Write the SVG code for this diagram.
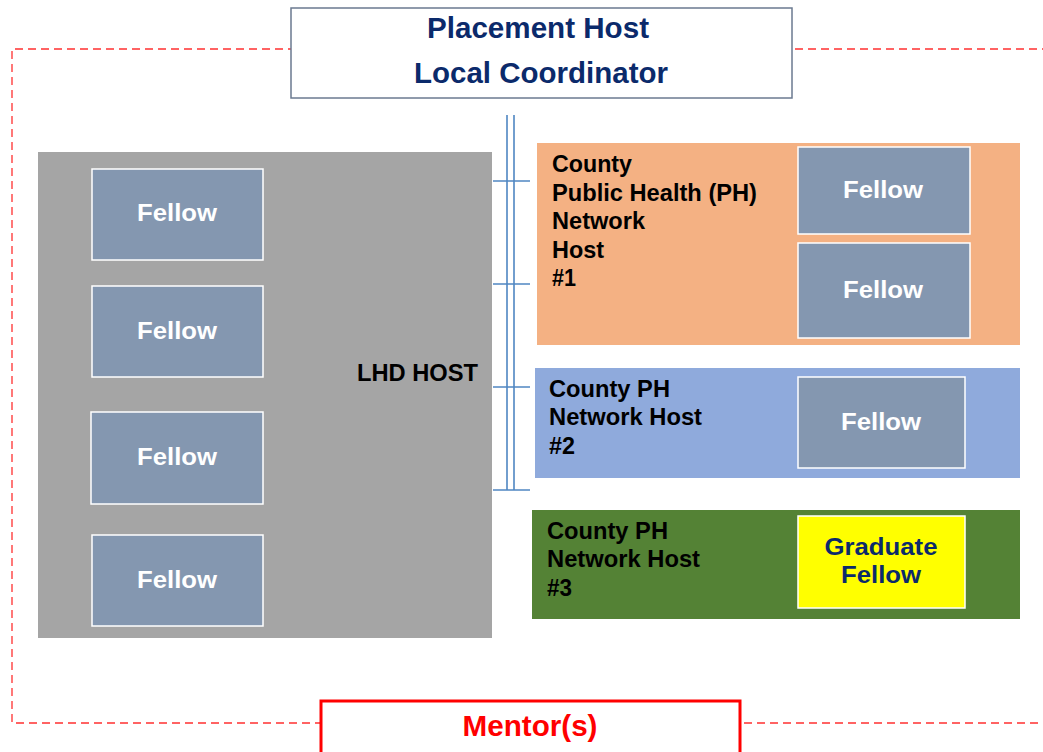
<svg xmlns="http://www.w3.org/2000/svg" width="1043" height="752" viewBox="0 0 1043 752">
<style>
.b{font-family:"Liberation Sans",Arial,sans-serif;font-weight:bold}
.fel{fill:#8497b0;stroke:#ffffff;stroke-width:1.5}
.ft{fill:#ffffff;font-size:24px;text-anchor:middle}
.ht{fill:#000000;font-size:23px}
.conn{stroke:#4f86c2;stroke-width:1.6;fill:none}
</style>
<rect width="1043" height="752" fill="#ffffff"/>
<g id="boundary">
<path d="M1050,49 H12 V723 H1050" fill="none" stroke="#ff3030" stroke-width="1.3" stroke-dasharray="8,5"/>
</g>
<g id="coordinator">
<rect x="291" y="8" width="501" height="90" fill="#ffffff" stroke="#6b7a90" stroke-width="1.5"/>
<text class="b" x="538" y="38" font-size="29" fill="#0b2a6b" text-anchor="middle" textLength="222" lengthAdjust="spacingAndGlyphs">Placement Host</text>
<text class="b" x="541" y="83" font-size="29" fill="#0b2a6b" text-anchor="middle" textLength="254" lengthAdjust="spacingAndGlyphs">Local Coordinator</text>
</g>
<g id="connectors">
<line class="conn" x1="507" y1="115" x2="507" y2="490"/>
<line class="conn" x1="514" y1="115" x2="514" y2="490"/>
<line class="conn" x1="493" y1="181" x2="530" y2="181"/>
<line class="conn" x1="493" y1="284" x2="530" y2="284"/>
<line class="conn" x1="493" y1="387" x2="530" y2="387"/>
<line class="conn" x1="493" y1="490" x2="530" y2="490"/>
</g>
<g id="lhd-host">
<rect x="38" y="152" width="454" height="486" fill="#a5a5a5"/>
<text class="b ht" x="357" y="381" textLength="121" lengthAdjust="spacingAndGlyphs">LHD HOST</text>
</g>
<g id="lhd-fellow-1"><rect class="fel" x="92" y="169" width="171" height="91"/><text class="b ft" x="177" y="221" textLength="80" lengthAdjust="spacingAndGlyphs">Fellow</text></g>
<g id="lhd-fellow-2"><rect class="fel" x="92" y="286" width="171" height="91"/><text class="b ft" x="177" y="339" textLength="80" lengthAdjust="spacingAndGlyphs">Fellow</text></g>
<g id="lhd-fellow-3"><rect class="fel" x="91" y="412" width="172" height="92"/><text class="b ft" x="177" y="465" textLength="80" lengthAdjust="spacingAndGlyphs">Fellow</text></g>
<g id="lhd-fellow-4"><rect class="fel" x="92" y="535" width="171" height="91"/><text class="b ft" x="177" y="588" textLength="80" lengthAdjust="spacingAndGlyphs">Fellow</text></g>
<g id="host-1">
<rect x="537" y="143" width="483" height="202" fill="#f4b183"/>
<text class="b ht" x="552" y="172" textLength="80" lengthAdjust="spacingAndGlyphs">County</text>
<text class="b ht" x="552" y="201" textLength="205" lengthAdjust="spacingAndGlyphs">Public Health (PH)</text>
<text class="b ht" x="552" y="229" textLength="93" lengthAdjust="spacingAndGlyphs">Network</text>
<text class="b ht" x="552" y="258" textLength="52" lengthAdjust="spacingAndGlyphs">Host</text>
<text class="b ht" x="552" y="286" textLength="24" lengthAdjust="spacingAndGlyphs">#1</text>
</g>
<g id="host-1-fellow-1"><rect class="fel" x="798" y="147" width="172" height="87"/><text class="b ft" x="883" y="198" textLength="80" lengthAdjust="spacingAndGlyphs">Fellow</text></g>
<g id="host-1-fellow-2"><rect class="fel" x="798" y="243" width="172" height="95"/><text class="b ft" x="883" y="298" textLength="80" lengthAdjust="spacingAndGlyphs">Fellow</text></g>
<g id="host-2">
<rect x="535" y="368" width="485" height="110" fill="#8faadc"/>
<text class="b ht" x="549" y="397" textLength="121" lengthAdjust="spacingAndGlyphs">County PH</text>
<text class="b ht" x="549" y="425" textLength="153" lengthAdjust="spacingAndGlyphs">Network Host</text>
<text class="b ht" x="549" y="454" textLength="26" lengthAdjust="spacingAndGlyphs">#2</text>
</g>
<g id="host-2-fellow"><rect class="fel" x="798" y="377" width="167" height="91"/><text class="b ft" x="881" y="430" textLength="80" lengthAdjust="spacingAndGlyphs">Fellow</text></g>
<g id="host-3">
<rect x="532" y="510" width="488" height="109" fill="#548235"/>
<text class="b ht" x="547" y="539" textLength="121" lengthAdjust="spacingAndGlyphs">County PH</text>
<text class="b ht" x="547" y="567" textLength="153" lengthAdjust="spacingAndGlyphs">Network Host</text>
<text class="b ht" x="547" y="596" textLength="25" lengthAdjust="spacingAndGlyphs">#3</text>
</g>
<g id="graduate-fellow">
<rect x="798" y="516" width="167" height="92" fill="#ffff00" stroke="#ffffff" stroke-width="1.5"/>
<text class="b" x="881" y="555" font-size="24" fill="#0b2a6b" text-anchor="middle" textLength="113" lengthAdjust="spacingAndGlyphs">Graduate</text>
<text class="b" x="881" y="583" font-size="24" fill="#0b2a6b" text-anchor="middle" textLength="80" lengthAdjust="spacingAndGlyphs">Fellow</text>
</g>
<g id="mentors">
<rect x="321" y="701" width="419" height="54" fill="#ffffff" stroke="#ff0000" stroke-width="3"/>
<text class="b" x="530" y="736" font-size="29" fill="#ff0000" text-anchor="middle" textLength="135" lengthAdjust="spacingAndGlyphs">Mentor(s)</text>
</g>
</svg>
